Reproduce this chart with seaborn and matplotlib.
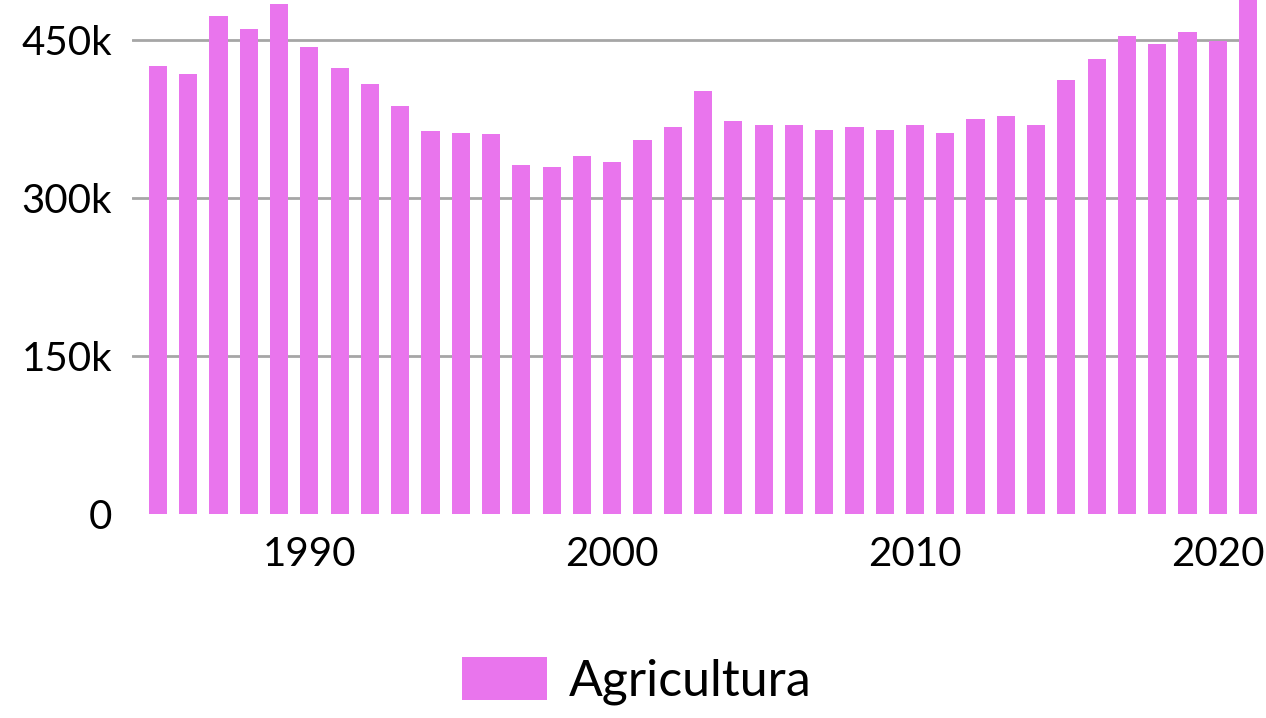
import matplotlib
matplotlib.use("Agg")
import matplotlib.pyplot as plt
import seaborn as sns
import pandas as pd

years = list(range(1985, 2022))
agricultura = [
    425400, 417800, 472900, 460600, 484300, 443500, 423500, 408300, 387400, 363600,
    361700, 360800, 331300, 329400, 339800, 334100, 355100, 367400, 401600, 373100,
    369300, 369300, 364600, 367400, 364600, 369300, 361700, 375000, 377900, 369300,
    412100, 432000, 453900, 446300, 457700, 449200, 500000,
]
y_ticks = [0, 150000, 300000, 450000]
y_tick_labels = ["0", "150k", "300k", "450k"]
x_ticks = [1990, 2000, 2010, 2020]
series_name = "Agricultura"

sns.set_theme(style="white")
plt.rcParams["font.family"] = ["Lato", "DejaVu Sans"]
plt.rcParams["text.color"] = "#000000"

df = pd.DataFrame({"year": years, "value": agricultura})

fig = plt.figure(figsize=(12.66, 7.18), dpi=100)
ax = fig.add_axes([0.104, 0.2848, 0.889, 0.7152])

sns.barplot(data=df, x="year", y="value", native_scale=True, width=0.6,
            color="#E975ED", saturation=1, label=series_name, ax=ax, zorder=3,
            linewidth=0, edgecolor="none")

ax.set_xlim(1984.13, 2021.3)
ax.set_ylim(0, 488000)
ax.set_yticks(y_ticks)
ax.set_yticklabels(y_tick_labels)
ax.set_xticks(x_ticks)
ax.set_xticklabels([str(t) for t in x_ticks])
ax.set_xlabel("")
ax.set_ylabel("")
ax.tick_params(axis="y", length=0, pad=14, labelsize=29, labelcolor="#000000")
ax.tick_params(axis="x", length=0, pad=16, labelsize=29, labelcolor="#000000")

ax.yaxis.grid(True, color="#a6a6a6", linewidth=2, zorder=0)
ax.xaxis.grid(False)
ax.set_axisbelow(True)
ax.yaxis.get_gridlines()[0].set_visible(False)
for s in ax.spines.values():
    s.set_visible(False)

leg = ax.get_legend()
if leg is not None:
    leg.remove()
handles, labels = ax.get_legend_handles_labels()
fig.legend(handles, labels, loc="center", bbox_to_anchor=(0.503, 0.052),
           frameon=False, handlelength=1.7, handleheight=0.95,
           handletextpad=0.45, labelcolor="#000000",
           prop={"weight": "normal", "size": 36})

fig.savefig("out.png", dpi=100)
